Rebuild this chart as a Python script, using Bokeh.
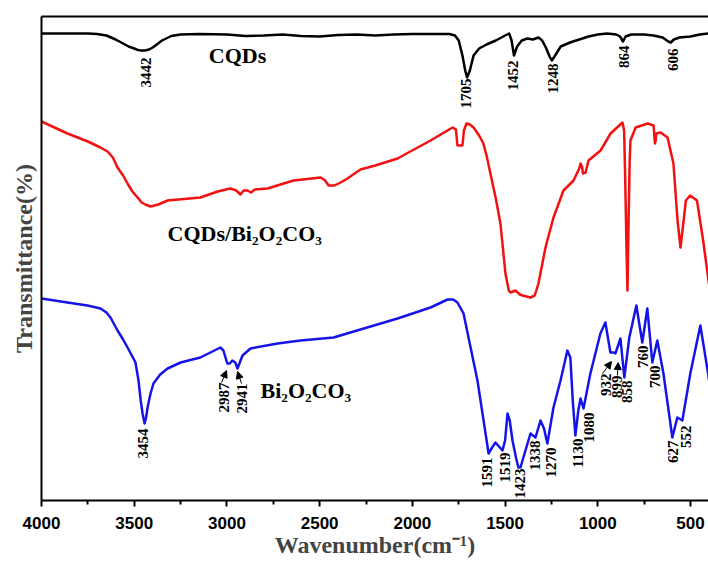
from math import pi
from bokeh.plotting import figure
from bokeh.models import Range1d, FixedTicker, LinearAxis, Label, Arrow, NormalHead
from bokeh.core.properties import value
from bokeh.embed import file_html
from bokeh.resources import INLINE

# ---------------- data (wavenumber, offset transmittance, arbitrary units) ----------------
cqd_wn = [4000, 3750, 3700, 3650, 3600, 3560, 3530, 3500, 3480, 3460, 3442, 3420, 3400, 3375,
          3350, 3300, 3250, 3150, 3000, 2900, 2800, 2700, 2600, 2500, 2400, 2300, 2200, 2100,
          2000, 1800, 1770, 1750, 1730, 1715, 1705, 1690, 1670, 1640, 1600, 1550, 1500, 1478,
          1465, 1452, 1435, 1410, 1380, 1350, 1320, 1300, 1280, 1260, 1248, 1230, 1200, 1150,
          1100, 1050, 1000, 950, 900, 880, 864, 850, 820, 750, 700, 650, 620, 606, 590, 560,
          500, 450, 400]
cqd_t = [467, 467, 466.5, 465, 461, 457, 454, 452, 450.5, 450, 450, 451, 453, 456.5,
         460, 464.5, 466, 466.5, 466, 464.5, 465, 466, 464.5, 464, 465.5, 466, 465, 466,
         466.5, 466.5, 465, 460, 445, 430, 423, 430, 445, 452, 456, 460, 465, 467,
         460, 445, 454, 460, 462, 461, 463, 460, 453, 444, 440, 445, 454, 458,
         461, 464, 466, 467, 466, 464, 459, 464, 466, 466, 465, 463, 459, 458, 461, 463,
         464, 466, 467]

comp_wn = [4000, 3860, 3750, 3682, 3644, 3615, 3590, 3560, 3536, 3510, 3482, 3460, 3440, 3412,
           3370, 3320, 3143, 3050, 2981, 2950, 2927, 2910, 2889, 2870, 2850, 2781, 2641, 2495,
           2470, 2452, 2420, 2387, 2350, 2280, 2200, 2080, 1902, 1783, 1765, 1757, 1730, 1722,
           1708, 1690, 1670, 1640, 1617, 1600, 1579, 1550, 1525, 1498, 1480, 1471, 1444, 1420,
           1406, 1363, 1340, 1320, 1282, 1239, 1185, 1131, 1100, 1093, 1085, 1080, 1066, 1050,
           985, 931, 867, 858, 852, 845, 840, 835, 828, 824, 796, 731, 699, 692, 688, 685, 661,
           624, 592, 570, 554, 540, 525, 502, 465, 432, 405, 400]
comp_t = [379, 367, 359, 353, 349, 343, 333, 325, 317, 309, 303, 298, 296, 294,
          296, 300, 303, 309, 312, 310, 306, 310, 310, 308, 311, 312, 320, 323,
          320, 315, 315, 318, 322, 331, 335, 342, 360, 373, 371, 355, 355, 370,
          377, 376, 373, 365, 357, 345, 327, 302, 277, 227, 210, 208, 210, 206,
          205, 203, 205, 217, 253, 283, 310, 320, 332, 337, 334, 327, 328, 340,
          350, 367, 378, 370, 320, 250, 210, 270, 340, 360, 373, 377, 375, 357, 360, 367, 368,
          363, 337, 280, 253, 275, 300, 305, 300, 260, 223, 216]

bi_wn = [4000, 3860, 3752, 3682, 3650, 3628, 3590, 3560, 3536, 3510, 3493, 3477, 3465, 3455,
         3444, 3436, 3428, 3412, 3396, 3360, 3320, 3250, 3143, 3035, 3019, 2998, 2985, 2971,
         2955, 2943, 2916, 2873, 2727, 2603, 2425, 2280, 2080, 1902, 1810, 1780, 1757, 1724,
         1686, 1649, 1616, 1589, 1570, 1552, 1514, 1500, 1487, 1475, 1460, 1440, 1428, 1417,
         1390, 1363, 1336, 1309, 1290, 1272, 1239, 1201, 1164, 1148, 1135, 1121, 1105, 1093,
         1077, 1040, 986, 959, 932, 915, 905, 878, 857, 830, 792, 760, 733, 706, 679, 646,
         598, 571, 544, 501, 447, 405, 400]
bi_t = [202, 198, 195, 192, 188, 183, 170, 161, 153, 144, 138, 120, 100, 87,
        77, 83, 93, 107, 117, 126, 132, 138, 143, 153, 150, 137, 137, 140,
        138, 132, 145, 152, 157, 160, 163, 171, 182, 193, 201, 201, 198, 187,
        153, 120, 80, 47, 53, 58, 50, 60, 87, 80, 60, 42, 33, 33,
        50, 67, 63, 80, 72, 57, 93, 120, 150, 143, 100, 65, 90, 102,
        92, 127, 167, 178, 148, 148, 147, 162, 123, 163, 195, 158, 192, 138, 160, 127,
        63, 83, 80, 127, 175, 127, 120]

x_ticks = [4000, 3500, 3000, 2500, 2000, 1500, 1000, 500]
x_minor = [3750, 3250, 2750, 2250, 1750, 1250, 750]

# peak labels: text, wavenumber position, top of label
cqd_lab = ["3442", "1705", "1452", "1248", "864", "606"]
cqd_lab_x = [3439, 1713, 1455, 1239, 861, 597]
cqd_lab_y = [443, 422, 440, 437, 455, 452]

bi_lab = ["3454", "2987", "2941", "1591", "1519", "1423", "1338", "1270", "1130", "1080",
          "932", "899", "858", "760", "700", "627", "552"]
bi_lab_x = [3455, 3018, 2921, 1595, 1503, 1417, 1336, 1255, 1109, 1050,
            958, 894, 840, 754, 689, 597, 527]
bi_lab_y = [72, 118, 117, 43, 48, 32, 60, 53, 62, 88,
            127, 125, 120, 155, 135, 60, 75]

arrow_x0 = [3029, 2921, 975, 894]
arrow_y0 = [118, 117, 127, 125]
arrow_x1 = [3002, 2943, 926, 890]
arrow_y1 = [130, 129, 139, 138]

series_names = ["CQDs", "CQDs/Bi₂O₂CO₃", "Bi₂O₂CO₃"]
name_x = [2943, 3320, 2819]
name_y = [445, 267, 110]

# ---------------- figure ----------------
p = figure(width=708, height=563, output_backend="svg", toolbar_location=None,
           x_range=Range1d(4000, 403), y_range=Range1d(0, 484),
           min_border_left=41, min_border_right=0, min_border_top=16, min_border_bottom=63,
           x_axis_label="Wavenumber(cm⁻¹)", y_axis_label="Transmittance(%)")
p.grid.visible = False
p.outline_line_color = None
p.background_fill_color = "white"
p.border_fill_color = "white"

xa = p.xaxis[0]
xa.ticker = FixedTicker(ticks=x_ticks, minor_ticks=x_minor)
xa.axis_line_width = 2
xa.major_tick_line_width = 2
xa.minor_tick_line_width = 2
xa.major_tick_in = 0
xa.major_tick_out = 6
xa.minor_tick_in = 0
xa.minor_tick_out = 4
xa.major_label_text_font = "Liberation Sans"
xa.major_label_text_font_style = "bold"
xa.major_label_text_font_size = "17px"
xa.major_label_text_color = "black"
xa.major_label_standoff = 10
xa.axis_label_text_font = "Liberation Serif"
xa.axis_label_text_font_style = "bold"
xa.axis_label_text_font_size = "24px"
xa.axis_label_standoff = 0

ya = p.yaxis[0]
ya.ticker = FixedTicker(ticks=[])
ya.axis_line_width = 2
ya.major_tick_out = 0
ya.minor_tick_out = 0
ya.major_label_text_font_size = "0px"
ya.axis_label_text_font = "Liberation Serif"
ya.axis_label_text_font_style = "bold"
ya.axis_label_text_font_size = "24px"
ya.axis_label_standoff = 5

top = LinearAxis(ticker=FixedTicker(ticks=[]), axis_line_width=2, major_tick_out=0,
                 minor_tick_out=0, major_label_text_font_size="0px")
p.add_layout(top, "above")

p.line(cqd_wn, cqd_t, line_color="black", line_width=2.5, line_join="round")
p.line(comp_wn, comp_t, line_color="#f21010", line_width=2.5, line_join="round")
p.line(bi_wn, bi_t, line_color="#1414e8", line_width=2.5, line_join="round")

for labs, xs, ys in [(cqd_lab, cqd_lab_x, cqd_lab_y), (bi_lab, bi_lab_x, bi_lab_y)]:
    p.text(x=xs, y=ys, text=labs, angle=pi / 2, text_align="right", text_baseline="middle",
           text_font=value("Liberation Serif"), text_font_style="bold",
           text_font_size="15px", text_color="black")

for i in range(len(arrow_x0)):
    p.add_layout(Arrow(end=NormalHead(size=7, fill_color="black", line_color="black"),
                       x_start=arrow_x0[i], y_start=arrow_y0[i],
                       x_end=arrow_x1[i], y_end=arrow_y1[i],
                       line_color="black", line_width=1))

aligns = ["center", "left", "left"]
baselines = ["middle", "alphabetic", "alphabetic"]
for i, nm in enumerate(series_names):
    p.add_layout(Label(x=name_x[i], y=name_y[i], text=nm, text_align=aligns[i],
                       text_baseline=baselines[i], text_font="Liberation Serif",
                       text_font_style="bold", text_font_size="22px", text_color="black"))

open("out.html", "w").write(file_html(p, INLINE))
